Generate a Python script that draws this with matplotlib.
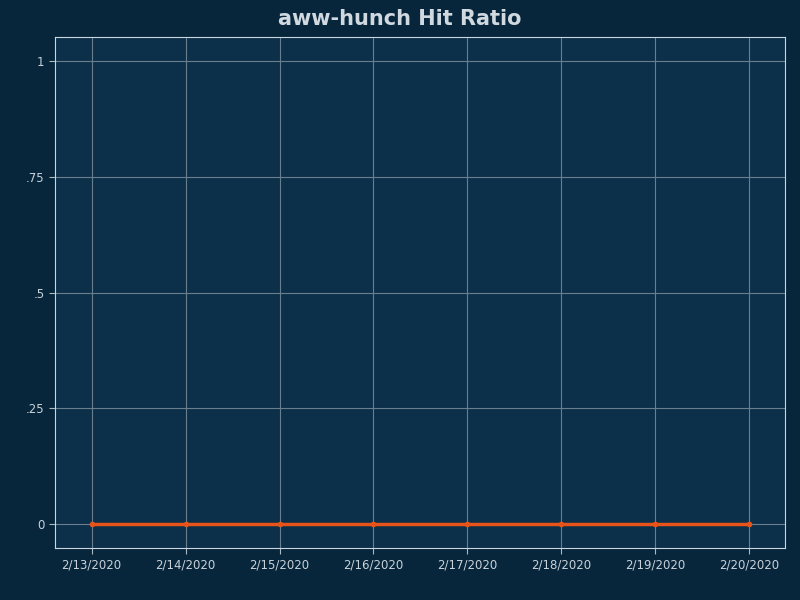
import matplotlib
matplotlib.use('Agg')
import matplotlib.pyplot as plt

dates = ['2/13/2020', '2/14/2020', '2/15/2020', '2/16/2020',
         '2/17/2020', '2/18/2020', '2/19/2020', '2/20/2020']
hit_ratio = [0, 0, 0, 0, 0, 0, 0, 0]

fig = plt.figure(figsize=(8, 6), dpi=100, facecolor='#08263b')
ax = fig.add_axes([0.06875, 0.0867, 0.9125, 0.8516], facecolor='#0c2f4a')

x = range(len(dates))
ax.plot(x, hit_ratio, color='#e8531a', lw=2.5, marker='o', ms=3, zorder=3)

ax.set_xlim(-0.39, 7.38)
ax.set_ylim(-0.052, 1.052)
ax.set_xticks(list(x))
ax.set_xticklabels(dates)
ax.set_yticks([0, 0.25, 0.5, 0.75, 1])
ax.set_yticklabels(['0', '.25', '.5', '.75', '1'])
ax.grid(True, color='#6a7f8e', lw=0.8)
ax.tick_params(colors='#aab8c2', labelcolor='#c8d2da', labelsize=8.5, length=4)
for s in ax.spines.values():
    s.set_color('#c8d6e0')
    s.set_linewidth(0.8)

fig.suptitle('aww-hunch Hit Ratio', color='#d0d8e0', fontsize=15,
             fontweight='bold', y=0.985)

fig.savefig('out.png', dpi=100, facecolor=fig.get_facecolor())
